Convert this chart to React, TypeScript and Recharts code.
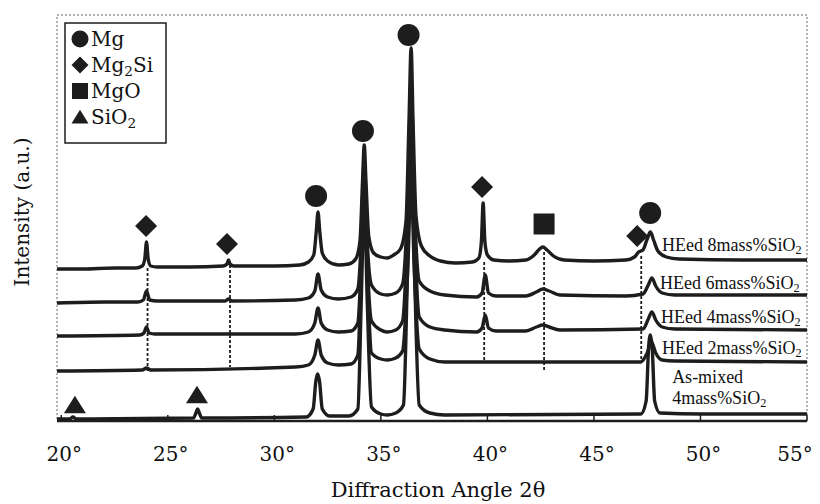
import React from 'react';
import { ComposedChart, Line, Scatter, XAxis, YAxis, ReferenceLine, ReferenceArea } from 'recharts';

// diffraction angle (deg) vs stacked intensity (a.u., offsets included)
type Pt = [number, number];

const angleTicks = [20, 25, 30, 35, 40, 45, 50, 55];

const heed8: Pt[] = [
  [19.8, 152], [21.0, 152], [22.5, 153], [23.5, 153], [23.8, 155], [23.92, 162], [24.0, 179], [24.08, 162],
  [24.2, 155], [24.5, 154], [26.0, 154], [27.6, 155], [27.78, 157], [27.85, 161], [27.92, 157], [28.1, 155],
  [30.0, 155], [31.2, 156], [31.6, 159], [31.85, 166], [31.97, 190], [32.05, 209], [32.13, 190], [32.25, 168],
  [32.5, 160], [33.0, 156], [33.5, 157], [33.82, 162], [34.02, 180], [34.14, 240], [34.22, 276], [34.3, 240],
  [34.43, 185], [34.66, 168], [35.0, 164], [35.3, 163], [35.6, 166], [35.92, 172], [36.18, 200], [36.32, 300],
  [36.42, 373], [36.51, 300], [36.65, 205], [36.9, 175], [37.3, 165], [37.8, 160], [38.5, 158], [39.3, 159],
  [39.6, 163], [39.72, 180], [39.8, 218], [39.88, 180], [40.0, 166], [40.3, 161], [41.0, 160], [41.8, 161],
  [42.2, 166], [42.45, 172], [42.6, 174], [42.8, 171], [43.1, 165], [43.6, 161], [45.0, 160], [46.5, 161],
  [46.9, 164], [47.1, 169], [47.3, 171], [47.5, 182], [47.65, 189], [47.8, 181], [48.0, 170], [48.4, 164],
  [49.0, 162], [52.0, 161], [55.0, 161],
];

const heed6: Pt[] = [
  [19.8, 118], [22.0, 119], [23.6, 119], [23.85, 121], [24.0, 130], [24.15, 121], [24.5, 120], [27.7, 120],
  [27.85, 122], [28.0, 120], [31.0, 121], [31.6, 123], [31.9, 130], [32.05, 147], [32.2, 131], [32.5, 124],
  [33.0, 122], [33.6, 124], [33.92, 132], [34.08, 180], [34.22, 261], [34.36, 180], [34.56, 136], [35.0, 127],
  [35.3, 126], [35.7, 128], [36.02, 137], [36.26, 220], [36.42, 336], [36.57, 220], [36.8, 140], [37.3, 130],
  [38.0, 126], [39.5, 124], [39.75, 128], [39.9, 146], [40.05, 128], [40.4, 125], [41.8, 125], [42.3, 129],
  [42.6, 132], [42.9, 130], [43.4, 126], [46.5, 125], [47.3, 127], [47.55, 136], [47.72, 143], [47.9, 135],
  [48.2, 128], [48.8, 126], [55.0, 126],
];

const heed4: Pt[] = [
  [19.8, 85], [23.7, 86], [23.88, 88], [24.0, 94], [24.12, 88], [24.4, 87], [31.0, 87], [31.6, 89],
  [31.9, 98], [32.05, 113], [32.2, 98], [32.5, 91], [33.0, 89], [33.6, 90], [33.92, 98], [34.08, 160],
  [34.22, 246], [34.36, 160], [34.56, 100], [35.0, 91], [35.3, 89], [35.7, 91], [36.02, 100], [36.26, 200],
  [36.42, 321], [36.57, 200], [36.8, 104], [37.3, 94], [38.0, 91], [39.5, 89], [39.75, 93], [39.9, 106],
  [40.05, 93], [40.4, 90], [41.8, 90], [42.3, 94], [42.6, 96], [42.9, 94], [43.4, 91], [47.3, 92],
  [47.55, 102], [47.72, 109], [47.9, 101], [48.2, 94], [48.8, 92], [55.0, 91],
];

const heed2: Pt[] = [
  [19.8, 50], [23.8, 51], [24.0, 53], [24.2, 51], [31.0, 54], [31.6, 56], [31.9, 66], [32.05, 81],
  [32.2, 66], [32.5, 58], [33.0, 56], [33.6, 57], [33.92, 66], [34.08, 150], [34.22, 231], [34.36, 150],
  [34.56, 68], [35.0, 62], [35.3, 61], [35.7, 63], [36.02, 70], [36.26, 150], [36.42, 241], [36.57, 150],
  [36.8, 72], [37.3, 62], [38.0, 59], [47.2, 59], [47.5, 68], [47.7, 79], [47.9, 68], [48.2, 61],
  [48.8, 60], [55.0, 59],
];

const asMixed: Pt[] = [
  [19.8, 2], [20.4, 2], [20.55, 4], [20.7, 2], [26.2, 3], [26.32, 8], [26.4, 12], [26.48, 8],
  [26.6, 3], [31.5, 4], [31.82, 12], [31.95, 40], [32.03, 47], [32.12, 40], [32.25, 12], [32.6, 5],
  [33.5, 5], [33.92, 12], [34.08, 120], [34.22, 221], [34.36, 120], [34.56, 14], [35.0, 7], [35.3, 6],
  [35.7, 8], [36.06, 16], [36.26, 160], [36.42, 301], [36.57, 160], [36.8, 16], [37.3, 8], [38.0, 6],
  [47.2, 7], [47.45, 20], [47.57, 75], [47.65, 86], [47.73, 75], [47.85, 20], [48.1, 8], [50.0, 7],
  [55.0, 7],
];

// phase markers placed above their peaks
const mgPeaks: Pt[] = [[31.96, 225], [34.16, 290], [36.3, 386], [47.64, 208]];
const mg2siPeaks: Pt[] = [[23.98, 195], [27.78, 177], [39.75, 234], [47.03, 185]];
const mgoPeaks: Pt[] = [[42.66, 197]];
const sio2Peaks: Pt[] = [[20.64, 16], [26.37, 26]];

// dashed guides: angle, top, bottom
const guideLines: [number, number, number][] = [
  [24.05, 153, 48], [27.92, 156, 54], [39.85, 159, 59], [42.66, 169, 49], [47.22, 165, 58],
];

const traceLabels = [
  { a: 48.2, v: 176, text: 'HEed 8mass%SiO2' },
  { a: 48.1, v: 138, text: 'HEed 6mass%SiO2' },
  { a: 48.15, v: 104, text: 'HEed 4mass%SiO2' },
  { a: 48.2, v: 73, text: 'HEed 2mass%SiO2' },
  { a: 48.67, v: 44, text: 'As-mixed' },
  { a: 48.67, v: 23, text: '4mass%SiO2' },
];

const traces = [asMixed, heed2, heed4, heed6, heed8];

const phases = [
  { name: 'Mg', kind: 'circle', peaks: mgPeaks },
  { name: 'Mg2Si', kind: 'diamond', peaks: mg2siPeaks },
  { name: 'MgO', kind: 'square', peaks: mgoPeaks },
  { name: 'SiO2', kind: 'triangle', peaks: sio2Peaks },
];

const W = 812;
const H = 496;
const INK = '#1d1d1d';
const SERIF = '"DejaVu Serif", serif';

const toPts = (list: Pt[]) => list.map(([a, v]) => ({ a, v }));

// digits right after a letter are drawn as subscripts
function Formula({ text, size }: { text: string; size: number }) {
  const parts: { t: string; sub: boolean }[] = [];
  for (let i = 0; i < text.length; i++) {
    const sub = /\d/.test(text[i]) && i > 0 && /[A-Za-z]/.test(text[i - 1]);
    const last = parts[parts.length - 1];
    if (last && last.sub === sub) last.t += text[i];
    else parts.push({ t: text[i], sub });
  }
  const shift = size * 0.28;
  return (
    <>
      {parts.map((p, i) => (
        <tspan
          key={i}
          dy={p.sub ? shift : i > 0 && parts[i - 1].sub ? -shift : undefined}
          fontSize={p.sub ? size * 0.68 : size}
        >
          {p.t}
        </tspan>
      ))}
    </>
  );
}

function Mark({ kind, cx, cy, s }: { kind: string; cx: number; cy: number; s: number }) {
  if (kind === 'circle') return <circle cx={cx} cy={cy} r={s} fill={INK} />;
  if (kind === 'diamond')
    return <polygon points={`${cx},${cy - s} ${cx + s},${cy} ${cx},${cy + s} ${cx - s},${cy}`} fill={INK} />;
  if (kind === 'square') return <rect x={cx - s} y={cy - s} width={2 * s} height={2 * s} fill={INK} />;
  return (
    <polygon
      points={`${cx},${cy - s * 0.85} ${cx + s},${cy + s * 0.75} ${cx - s},${cy + s * 0.75}`}
      fill={INK}
    />
  );
}

// last label sits against the right edge like in the scan
const AngleTick = (props: any) => {
  const { x, y, payload } = props;
  const dx = payload.value === 55 ? -12 : 3;
  return (
    <text x={x + dx} y={y} dy="0.71em" textAnchor="middle" fontFamily={SERIF} fontSize={20} fill="#111">
      {`${payload.value}°`}
    </text>
  );
};

const App: React.FC = () => {
  return (
    <div style={{ position: 'relative', width: W, height: H, background: '#fff' }}>
      <ComposedChart width={W} height={H} margin={{ top: 7, right: 13, bottom: 43, left: 49 }}>
        <XAxis
          type="number"
          dataKey="a"
          domain={[19.8, 55]}
          ticks={angleTicks}
          allowDataOverflow
          height={40}
          tickSize={0}
          tickMargin={26}
          tickLine={false}
          axisLine={{ stroke: INK, strokeWidth: 2.5 }}
          tick={<AngleTick />}
        />
        <YAxis type="number" dataKey="v" domain={[0, 406]} hide width={0} allowDataOverflow />
        <ReferenceArea x1={19.8} x2={55} y1={0} y2={406} fill="none" stroke="#666" strokeDasharray="2 2" />
        {angleTicks.map((t) => (
          <ReferenceLine key={`t${t}`} segment={[{ x: t, y: 0 }, { x: t, y: 6 }]} stroke={INK} strokeWidth={1.5} />
        ))}
        {guideLines.map(([a, top, bottom]) => (
          <ReferenceLine
            key={`g${a}`}
            segment={[{ x: a, y: top }, { x: a, y: bottom }]}
            stroke={INK}
            strokeWidth={1.8}
            strokeDasharray="3 2"
          />
        ))}
        {traces.map((tr, i) => (
          <Line
            key={`tr${i}`}
            data={toPts(tr)}
            dataKey="v"
            type="monotone"
            stroke={INK}
            strokeWidth={3.4}
            strokeLinejoin="round"
            dot={false}
            isAnimationActive={false}
          />
        ))}
        {phases.map((ph) => (
          <Scatter
            key={ph.name}
            data={toPts(ph.peaks)}
            dataKey="v"
            isAnimationActive={false}
            shape={(p: any) => <Mark kind={ph.kind} cx={p.cx} cy={p.cy} s={ph.kind === 'square' ? 10.5 : 11} />}
          />
        ))}
        <Scatter
          data={traceLabels}
          dataKey="v"
          isAnimationActive={false}
          shape={(p: any) => (
            <text
              x={p.cx}
              y={p.cy}
              dominantBaseline="central"
              fontFamily='"Liberation Serif", serif'
              fontSize={18}
              fill="#111"
            >
              <Formula text={p.payload.text} size={18} />
            </text>
          )}
        />
      </ComposedChart>
      <svg
        width={W}
        height={H}
        style={{ position: 'absolute', left: 0, top: 0, pointerEvents: 'none' }}
      >
        <rect x={57} y={15} width={101} height={120} fill="#fff" stroke={INK} strokeWidth={1.5} />
        {phases.map((ph, i) => {
          const cy = 31 + i * 26;
          return (
            <g key={ph.name}>
              <Mark kind={ph.kind} cx={72} cy={cy} s={ph.kind === 'square' ? 8 : 8.5} />
              <text x={83} y={cy} dominantBaseline="central" fontFamily={SERIF} fontSize={20} fill="#111">
                <Formula text={ph.name} size={20} />
              </text>
            </g>
          );
        })}
        <text
          x={14}
          y={204}
          transform="rotate(-90 14 204)"
          textAnchor="middle"
          dominantBaseline="central"
          fontFamily={SERIF}
          fontSize={20}
          fill="#111"
        >
          Intensity (a.u.)
        </text>
        <text x={430} y={489} textAnchor="middle" fontFamily={SERIF} fontSize={21} fill="#111">
          Diffraction Angle 2θ
        </text>
      </svg>
    </div>
  );
};

export default App;
